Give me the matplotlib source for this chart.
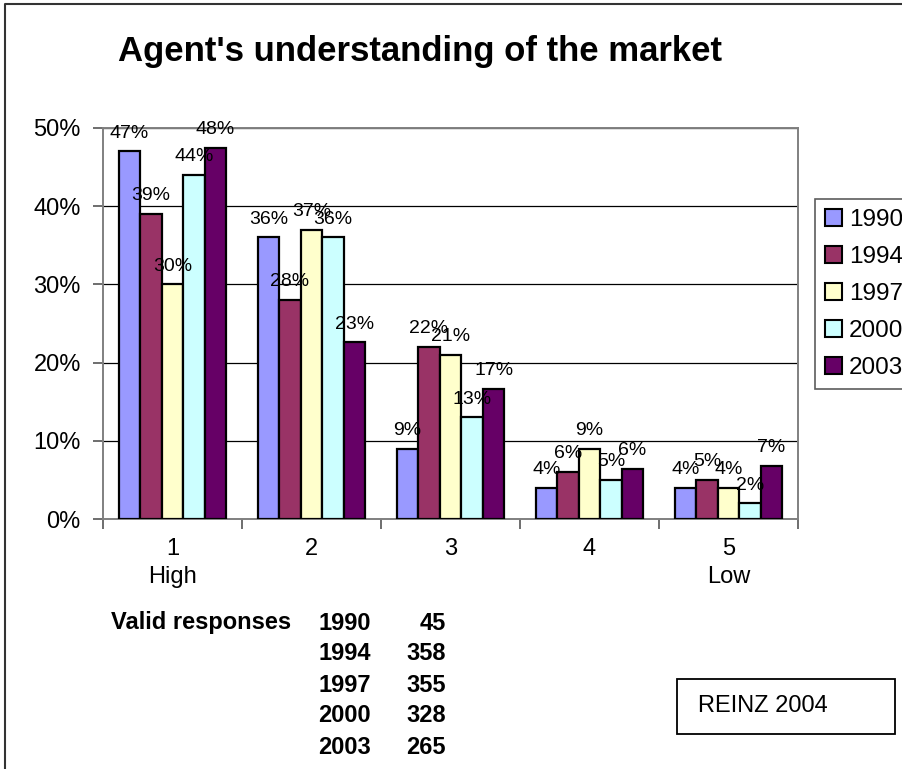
import numpy as np
import matplotlib.pyplot as plt
from matplotlib.patches import Rectangle, Patch
from matplotlib.lines import Line2D

plt.rcParams['font.family'] = ['Liberation Sans', 'DejaVu Sans']

categories = ["1\nHigh", "2", "3", "4", "5\nLow"]
years = ["1990", "1994", "1997", "2000", "2003"]
colors = ["#9999FF", "#993366", "#FFFFCC", "#CCFFFF", "#660066"]

v1990 = [0.47, 0.36, 0.09, 0.04, 0.04]
v1994 = [0.39, 0.28, 0.22, 0.06, 0.05]
v1997 = [0.30, 0.37, 0.21, 0.09, 0.04]
v2000 = [0.44, 0.36, 0.13, 0.05, 0.02]
v2003 = [0.475, 0.226, 0.166, 0.064, 0.068]
series = [v1990, v1994, v1997, v2000, v2003]

resp_years = ["1990", "1994", "1997", "2000", "2003"]
resp_counts = [45, 358, 355, 328, 265]

W, H = 902, 769
fig = plt.figure(figsize=(W / 100, H / 100), dpi=100)

def fx(px):
    return px / W

def fy(py):
    return 1 - py / H

ax = fig.add_axes([fx(103), fy(519), fx(798) - fx(103), fy(128) - fy(519)])

x = np.arange(len(categories))
width = 0.155
for i, vals in enumerate(series):
    bars = ax.bar(x + (i - 2) * width, vals, width=width, color=colors[i],
                  edgecolor="black", linewidth=1.6, zorder=3, label=years[i])
    ax.bar_label(bars, labels=["%d%%" % round(v * 100 + 1e-9) for v in vals],
                 padding=7, fontsize=14, zorder=4)

ax.set_xlim(-0.5, 4.5)
ax.set_ylim(0, 0.5)
ax.set_yticks(np.arange(0, 0.51, 0.1))
ax.set_yticklabels(["%d%%" % (t * 10) for t in range(6)], fontsize=17)
ax.yaxis.grid(True, color="black", linewidth=0.9, zorder=0)
ax.set_axisbelow(True)

ax.set_xticks(x)
ax.set_xticklabels(categories, fontsize=17, linespacing=1.35)
ax.set_xticks(np.arange(-0.5, 4.6, 1), minor=True)
ax.tick_params(axis="x", which="major", length=0, pad=14)
ax.tick_params(axis="x", which="minor", length=7, width=1.2, color="#555555", direction="out")
ax.tick_params(axis="y", length=7, width=1.2, color="#555555", direction="out", pad=9)

for s in ax.spines.values():
    s.set_color("#808080")
    s.set_linewidth(1.4)

fig.text(fx(420), fy(51), "Agent's understanding of the market",
         ha="center", va="center", fontsize=25, fontweight="bold")

handles = [Patch(facecolor=c, edgecolor="black", linewidth=1.5) for c in colors]
leg = fig.legend(handles, years, loc="upper left", bbox_to_anchor=(fx(815), fy(199)),
                 fontsize=17.5, frameon=True, fancybox=False, edgecolor="#333333",
                 handlelength=0.7, handleheight=0.7, handletextpad=0.3,
                 labelspacing=0.62, borderpad=0.4, borderaxespad=0)
leg.get_frame().set_linewidth(1.2)

# outer chart border (cut by the image edges)
fig.add_artist(Line2D([fx(5), fx(5), 1.01], [-0.01, fy(4), fy(4)],
                      color="#333333", linewidth=1.5, transform=fig.transFigure))

# valid responses table
fig.text(fx(111), fy(623), "Valid responses", ha="left", va="center",
         fontsize=17, fontweight="bold")
for k, (yr, n) in enumerate(zip(resp_years, resp_counts)):
    yy = fy(623 + k * 31)
    fig.text(fx(371), yy, yr, ha="right", va="center", fontsize=17, fontweight="bold")
    fig.text(fx(446), yy, str(n), ha="right", va="center", fontsize=17, fontweight="bold")

# source box
fig.add_artist(Rectangle((fx(677), fy(734)), fx(895) - fx(677), fy(679) - fy(734),
                         transform=fig.transFigure, fill=False, edgecolor="black",
                         linewidth=1.3))
fig.text(fx(698), fy(706), "REINZ 2004", ha="left", va="center", fontsize=17)

fig.savefig("out.png", dpi=100)
